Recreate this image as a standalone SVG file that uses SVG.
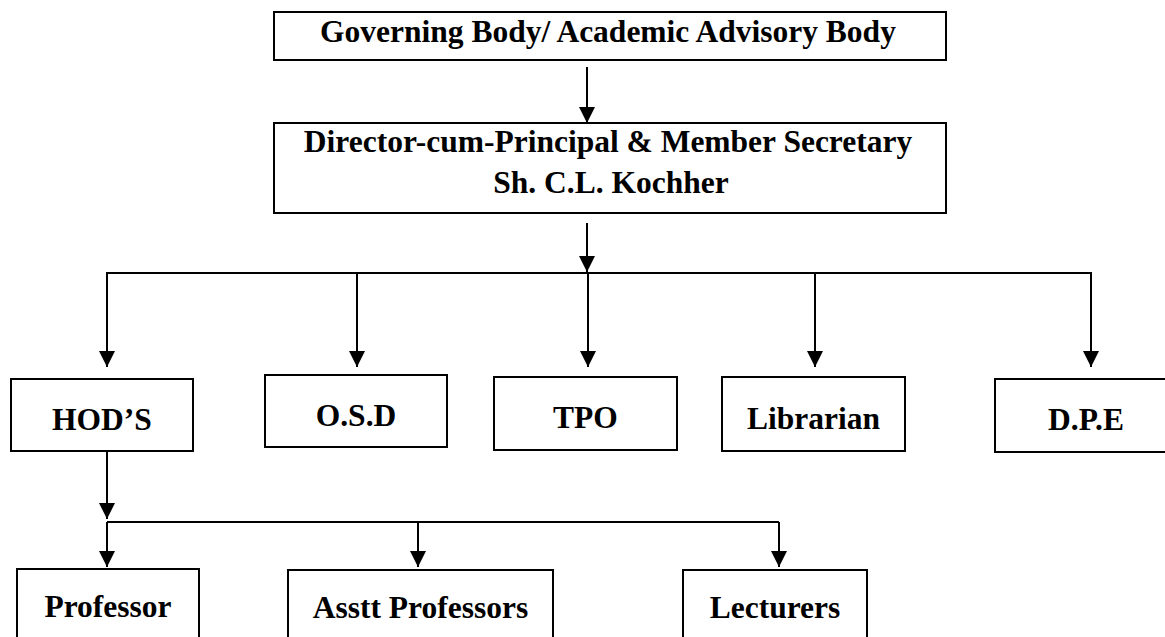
<svg xmlns="http://www.w3.org/2000/svg" width="1165" height="637" viewBox="0 0 1165 637">
  <style>
    .box { fill: #ffffff; stroke: #000000; stroke-width: 2; }
    .lbl { font-family: "Liberation Serif", "Times New Roman", serif; font-weight: bold; font-size: 31.5px; fill: #000000; text-anchor: middle; }
    .conn { fill: none; stroke: #000000; stroke-width: 2; }
  </style>
  <defs>
    <marker id="arrow" viewBox="0 0 16 16" refX="16" refY="8" markerWidth="16" markerHeight="16" markerUnits="userSpaceOnUse" orient="auto">
      <path d="M0,0 L16,8 L0,16 z" fill="#000000"/>
    </marker>
  </defs>
  <rect width="1165" height="637" fill="#ffffff"/>

  <g id="connectors">
    <line class="conn" x1="587" y1="67" x2="587" y2="123" marker-end="url(#arrow)"/>
    <line class="conn" x1="587" y1="223" x2="587" y2="272" marker-end="url(#arrow)"/>
    <polyline class="conn" points="107,367 107,273 1091,273 1091,367" marker-end="url(#arrow)"/>
    <line class="conn" x1="107" y1="273" x2="107" y2="367" marker-end="url(#arrow)"/>
    <line class="conn" x1="357" y1="273" x2="357" y2="367" marker-end="url(#arrow)"/>
    <line class="conn" x1="588" y1="273" x2="588" y2="367" marker-end="url(#arrow)"/>
    <line class="conn" x1="815" y1="273" x2="815" y2="367" marker-end="url(#arrow)"/>
    <line class="conn" x1="107" y1="451" x2="107" y2="519" marker-end="url(#arrow)"/>
    <polyline class="conn" points="107,522 779,522"/>
    <line class="conn" x1="107" y1="522" x2="107" y2="567" marker-end="url(#arrow)"/>
    <line class="conn" x1="418" y1="522" x2="418" y2="567" marker-end="url(#arrow)"/>
    <line class="conn" x1="779" y1="522" x2="779" y2="567" marker-end="url(#arrow)"/>
  </g>

  <g id="governing-body">
    <rect class="box" x="274" y="12" width="672" height="48"/>
    <text class="lbl" x="608" y="42">Governing Body/ Academic Advisory Body</text>
  </g>
  <g id="director">
    <rect class="box" x="274" y="123" width="672" height="90"/>
    <text class="lbl" x="608" y="152">Director-cum-Principal &amp; Member Secretary</text>
    <text class="lbl" x="611" y="193">Sh. C.L. Kochher</text>
  </g>
  <g id="hods">
    <rect class="box" x="11" y="379" width="182" height="72"/>
    <text class="lbl" x="102" y="430">HOD’S</text>
  </g>
  <g id="osd">
    <rect class="box" x="265" y="375" width="182" height="72"/>
    <text class="lbl" x="356" y="426">O.S.D</text>
  </g>
  <g id="tpo">
    <rect class="box" x="494" y="377" width="183" height="73"/>
    <text class="lbl" x="585.5" y="428">TPO</text>
  </g>
  <g id="librarian">
    <rect class="box" x="722" y="377" width="183" height="74"/>
    <text class="lbl" x="813.5" y="429">Librarian</text>
  </g>
  <g id="dpe">
    <rect class="box" x="995" y="379" width="182" height="73"/>
    <text class="lbl" x="1086" y="430">D.P.E</text>
  </g>
  <g id="professor">
    <rect class="box" x="17" y="569" width="182" height="80"/>
    <text class="lbl" x="108" y="617">Professor</text>
  </g>
  <g id="asstt-professors">
    <rect class="box" x="288" y="570" width="265" height="80"/>
    <text class="lbl" x="420.5" y="618">Asstt Professors</text>
  </g>
  <g id="lecturers">
    <rect class="box" x="683" y="570" width="184" height="80"/>
    <text class="lbl" x="775" y="618">Lecturers</text>
  </g>
</svg>
